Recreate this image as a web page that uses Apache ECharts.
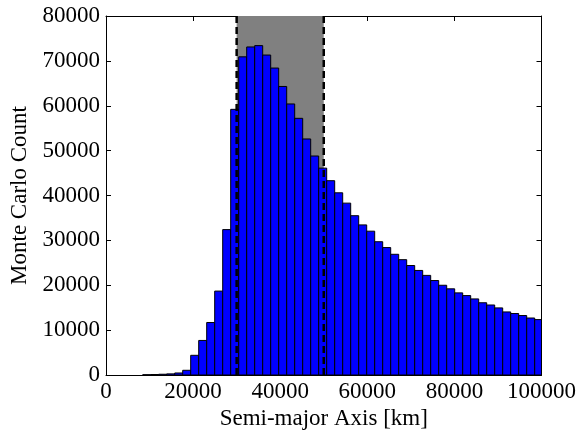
<!DOCTYPE html>
<html>
<head>
<meta charset="utf-8">
<script src="https://cdn.jsdelivr.net/npm/echarts@6/dist/echarts.min.js"></script>
<style>
  html, body { margin: 0; padding: 0; background: #fff; }
  #chart { width: 579px; height: 436px; }
</style>
</head>
<body>
<div id="chart"></div>
<script>
// Histogram of semi-major axis samples: equal-width bins starting at binStart
const binStart = 8425;      // km, left edge of the first bin
const binWidth = 1837;      // km
const counts = [
  60, 110, 170, 250, 450, 1050, 4390, 7700, 11700, 18700,
  32400, 59200, 70900, 73100, 73400, 71300, 68400, 64300, 60400, 57200,
  52600, 48800, 46100, 43300, 40600, 38300, 35500, 33450, 32050, 29700,
  28400, 26900, 25700, 24400, 23300, 22200, 21050, 20000, 19200, 18300,
  17700, 16950, 16100, 15600, 14950, 14050, 13700, 13250, 12700, 12350
];
// Highlighted semi-major axis band (km)
const bandRange = [30000, 50000];
// Axis limits and tick spacing
const xRange = [0, 100000];
const xStep = 20000;
const yRange = [0, 80000];
const yStep = 10000;

const font = 'Liberation Serif, Times New Roman, serif';
const fontSize = 23;

const binData = counts.map((c, i) => [binStart + i * binWidth, c]);
const plain = v => String(v);

const chart = echarts.init(document.getElementById('chart'), null, { renderer: 'canvas' });

const axisCommon = {
  type: 'value',
  axisLine: { show: true, onZero: false, lineStyle: { color: '#000', width: 1 } },
  axisTick: { show: true, inside: true, length: 5, lineStyle: { color: '#000', width: 1 } },
  splitLine: { show: false }
};

chart.setOption({
  animation: false,
  backgroundColor: '#fff',
  grid: { left: 106, right: 37, top: 16, bottom: 61, containLabel: false },
  xAxis: [
    Object.assign({}, axisCommon, {
      position: 'bottom',
      min: xRange[0], max: xRange[1], interval: xStep,
      axisLabel: { color: '#000', fontFamily: font, fontSize: fontSize, margin: 5, formatter: plain },
      name: 'Semi-major Axis [km]',
      nameLocation: 'middle',
      nameGap: 32,
      nameTextStyle: { color: '#000', fontFamily: font, fontSize: fontSize }
    }),
    Object.assign({}, axisCommon, {
      position: 'top',
      min: xRange[0], max: xRange[1], interval: xStep,
      axisLabel: { show: false }
    })
  ],
  yAxis: [
    Object.assign({}, axisCommon, {
      position: 'left',
      min: yRange[0], max: yRange[1], interval: yStep,
      axisLabel: { color: '#000', fontFamily: font, fontSize: fontSize, margin: 6, formatter: plain },
      name: 'Monte Carlo Count',
      nameLocation: 'middle',
      nameGap: 65,
      nameTextStyle: { color: '#000', fontFamily: font, fontSize: fontSize }
    }),
    Object.assign({}, axisCommon, {
      position: 'right',
      min: yRange[0], max: yRange[1], interval: yStep,
      axisLabel: { show: false }
    })
  ],
  series: [
    {
      // grey band behind the bars
      type: 'custom',
      z: 1,
      clip: true,
      data: [bandRange],
      renderItem: function (params, api) {
        const p0 = api.coord([api.value(0), yRange[1]]);
        const p1 = api.coord([api.value(1), yRange[0]]);
        return {
          type: 'rect',
          shape: { x: p0[0], y: p0[1], width: p1[0] - p0[0], height: p1[1] - p0[1] },
          style: { fill: '#808080' }
        };
      }
    },
    {
      // histogram bars
      type: 'custom',
      z: 2,
      clip: true,
      data: binData,
      renderItem: function (params, api) {
        const left = api.value(0);
        const right = Math.min(left + binWidth, xRange[1]);
        const pTop = api.coord([left, api.value(1)]);
        const pBot = api.coord([right, 0]);
        return {
          type: 'rect',
          shape: { x: pTop[0], y: pTop[1], width: pBot[0] - pTop[0], height: pBot[1] - pTop[1] },
          style: { fill: '#0000ff', stroke: '#000', lineWidth: 1 }
        };
      }
    },
    {
      // dashed band boundaries on top
      type: 'custom',
      z: 3,
      clip: true,
      data: bandRange.map(v => [v]),
      renderItem: function (params, api) {
        const a = api.coord([api.value(0), yRange[1]]);
        const b = api.coord([api.value(0), yRange[0]]);
        return {
          type: 'line',
          shape: { x1: a[0], y1: a[1], x2: b[0], y2: b[1] },
          style: { stroke: '#000', lineWidth: 2.5, lineDash: [7, 4] }
        };
      }
    }
  ]
});
</script>
</body>
</html>
